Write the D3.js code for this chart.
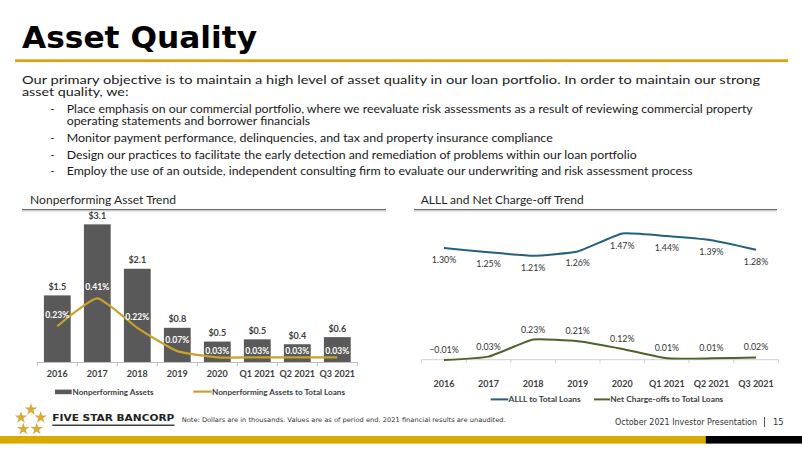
<!DOCTYPE html>
<html>
<head>
<meta charset="utf-8">
<script src="https://cdn.jsdelivr.net/npm/d3@7"></script>
<style>
html,body{margin:0;padding:0;background:#fff;}
svg{display:block;}
</style>
</head>
<body>
<script>
// ---------------- DATA ----------------
const categories = ["2016","2017","2018","2019","2020","Q1 2021","Q2 2021","Q3 2021"];
const npaValues = [1.5, 3.1, 2.1, 0.77, 0.46, 0.51, 0.4, 0.56];      // $ thousands (labels)
const npaToLoans = [0.23, 0.41, 0.22, 0.07, 0.03, 0.03, 0.03, 0.03]; // %
const alllToLoans = [1.30, 1.25, 1.21, 1.26, 1.47, 1.44, 1.39, 1.28]; // %
const ncoToLoans = [-0.01, 0.03, 0.23, 0.21, 0.12, 0.01, 0.01, 0.02]; // %

const titleText = "Asset Quality";
const introLines = [
  "Our primary objective is to maintain a high level of asset quality in our loan portfolio. In order to maintain our strong",
  "asset quality, we:"
];
const bulletLines = [
  ["Place emphasis on our commercial portfolio, where we reevaluate risk assessments as a result of reviewing commercial property",
   "operating statements and borrower financials"],
  ["Monitor payment performance, delinquencies, and tax and property insurance compliance"],
  ["Design our practices to facilitate the early detection and remediation of problems within our loan portfolio"],
  ["Employ the use of an outside, independent consulting firm to evaluate our underwriting and risk assessment process"]
];
const leftTitle = "Nonperforming Asset Trend";
const rightTitle = "ALLL and Net Charge-off Trend";
const leftLegend = ["Nonperforming Assets", "Nonperforming Assets to Total Loans"];
const rightLegend = ["ALLL to Total Loans", "Net Charge-offs to Total Loans"];
const footNote = "Note: Dollars are in thousands. Values are as of period end. 2021 financial results are unaudited.";
const footRight = "October 2021 Investor Presentation";
const pageNum = "15";
const brand = "FIVE STAR BANCORP";

// ---------------- STYLE ----------------
const GOLD = "#DAAA00";
const BAR = "#595959";
const NPA_LINE = "#C9A227";
const ALLL = "#24607F";
const NCO = "#4F6228";
const TXT = "#404040";
const BODY_FONT = "Lato, 'Open Sans', sans-serif";

const svg = d3.select("body").append("svg").attr("width", 802).attr("height", 451);

// ---------------- HEADER ----------------
svg.append("text").attr("x", 22).attr("y", 47.5)
  .attr("font-family", "'DejaVu Sans', Verdana, sans-serif").attr("font-weight", "bold")
  .attr("font-size", 31).attr("fill", "#000")
  .attr("textLength", 235).attr("lengthAdjust", "spacingAndGlyphs")
  .text(titleText);
svg.append("rect").attr("x", 15).attr("y", 59.3).attr("width", 773).attr("height", 2.8).attr("fill", "#D4A514");

// intro paragraph: one text element, wrapped lines as tspans
const introY = [84.4, 96.4], introLen = [738, 106.5];
const intro = svg.append("text")
  .attr("font-family", BODY_FONT).attr("font-size", 11.6).attr("fill", "#1a1a1a");
introLines.forEach((t, i) => {
  intro.append("tspan").attr("x", 22).attr("y", introY[i])
    .attr("textLength", introLen[i]).attr("lengthAdjust", "spacingAndGlyphs").text(t);
});

const bulletY = [[113.3, 125.4], [141.6], [158.6], [174.6]];
const bulletLen = [[686, 243.5], [486], [570], [626]];
bulletLines.forEach((lines, i) => {
  svg.append("text").attr("x", 50.5).attr("y", bulletY[i][0])
    .attr("font-family", BODY_FONT).attr("font-size", 10.5).attr("fill", "#1a1a1a").text("-");
  const bt = svg.append("text")
    .attr("font-family", BODY_FONT).attr("font-size", 10.5).attr("fill", "#1a1a1a");
  lines.forEach((t, j) => {
    bt.append("tspan").attr("x", 66.7).attr("y", bulletY[i][j])
      .attr("textLength", bulletLen[i][j]).attr("lengthAdjust", "spacingAndGlyphs").text(t);
  });
});

// section titles
function sectionTitle(x, text, len, x0, x1) {
  svg.append("text").attr("x", x).attr("y", 203.8)
    .attr("font-family", BODY_FONT).attr("font-size", 11.5).attr("fill", "#262626")
    .attr("textLength", len).attr("lengthAdjust", "spacingAndGlyphs").text(text);
  svg.append("line").attr("x1", x0).attr("x2", x1).attr("y1", 210.8).attr("y2", 210.8)
    .attr("stroke", "#d0d0d0").attr("stroke-width", 1.2);
  svg.append("line").attr("x1", x0).attr("x2", x1).attr("y1", 209.6).attr("y2", 209.6)
    .attr("stroke", "#595959").attr("stroke-width", 1);
}
sectionTitle(30, leftTitle, 146, 22, 386);
sectionTitle(420.7, rightTitle, 163, 414, 777);

// ---------------- LEFT CHART ----------------
const L = { x0: 37.3, x1: 357.3, base: 362 };
const xL = d3.scaleBand().domain(categories).range([L.x0, L.x1]).paddingInner(0.33).paddingOuter(0.165);
const yBar = d3.scaleLinear().domain([0, 3.5]).range([L.base, L.base - 3.5 * 44.4]);
const yPct = d3.scaleLinear().domain([0, 0.45]).range([L.base, L.base - 0.45 * 155.4]);

const gL = svg.append("g");
gL.selectAll("rect.bar").data(categories).join("rect").attr("class", "bar")
  .attr("x", d => xL(d)).attr("width", xL.bandwidth())
  .attr("y", (d, i) => yBar(npaValues[i])).attr("height", (d, i) => yBar(0) - yBar(npaValues[i]))
  .attr("fill", BAR);

// axis
const axL = d3.axisBottom(xL).tickSize(0).tickPadding(0);
const axisLG = gL.append("g").attr("transform", `translate(0,${L.base})`).call(axL);
axisLG.select(".domain").attr("stroke", "#bfbfbf");
axisLG.selectAll(".tick text").remove();
const bL = [...categories.map(c => xL(c) - xL.step() * xL.paddingInner() / 2), L.x1];
gL.selectAll("line.tk").data(bL).join("line").attr("class", "tk")
  .attr("x1", d => d).attr("x2", d => d).attr("y1", L.base).attr("y2", L.base + 4)
  .attr("stroke", "#bfbfbf");
gL.selectAll("text.cat").data(categories).join("text").attr("class", "cat")
  .attr("x", d => xL(d) + xL.bandwidth() / 2).attr("y", 376.6).attr("text-anchor", "middle")
  .attr("font-family", BODY_FONT).attr("font-weight", "bold").attr("font-size", 9).attr("fill", TXT)
  .text(d => d);

// bar labels
gL.selectAll("text.val").data(categories).join("text").attr("class", "val")
  .attr("x", d => xL(d) + xL.bandwidth() / 2).attr("y", (d, i) => yBar(npaValues[i]) - 5.5)
  .attr("text-anchor", "middle")
  .attr("font-family", BODY_FONT).attr("font-weight", "bold").attr("font-size", 9).attr("fill", TXT)
  .text((d, i) => "$" + d3.format(".1f")(npaValues[i]));

// NPA ratio line
const lineL = d3.line().x((d, i) => xL(categories[i]) + xL.bandwidth() / 2).y(d => yPct(d)).curve(d3.curveCardinal.tension(0.5));
gL.append("path").datum(npaToLoans).attr("d", lineL).attr("fill", "none")
  .attr("stroke", NPA_LINE).attr("stroke-width", 2.2);
gL.selectAll("text.pct").data(npaToLoans).join("text").attr("class", "pct")
  .attr("x", (d, i) => xL(categories[i]) + xL.bandwidth() / 2)
  .attr("y", d => yPct(d) - (d < 0.05 ? 6.5 : 11) + 3)
  .attr("text-anchor", "middle")
  .attr("font-family", BODY_FONT).attr("font-weight", "bold").attr("font-size", 8.6).attr("fill", "#fff")
  .text(d => d3.format(".2f")(d) + "%");

// legend left
gL.append("rect").attr("x", 55).attr("y", 389.6).attr("width", 16.7).attr("height", 4.6).attr("fill", BAR);
gL.append("text").attr("x", 72.5).attr("y", 394.6).attr("font-family", BODY_FONT).attr("font-weight", "bold")
  .attr("font-size", 8).attr("fill", TXT).attr("textLength", 81).attr("lengthAdjust", "spacingAndGlyphs").text(leftLegend[0]);
gL.append("line").attr("x1", 193.3).attr("x2", 211.7).attr("y1", 391.6).attr("y2", 391.6)
  .attr("stroke", NPA_LINE).attr("stroke-width", 2.2);
gL.append("text").attr("x", 212).attr("y", 394.6).attr("font-family", BODY_FONT).attr("font-weight", "bold")
  .attr("font-size", 8).attr("fill", TXT).attr("textLength", 133).attr("lengthAdjust", "spacingAndGlyphs").text(leftLegend[1]);

// ---------------- RIGHT CHART ----------------
const R = { x0: 421.7, x1: 778.3, zero: 359.2 };
const xR = d3.scalePoint().domain(categories).range([R.x0, R.x1]).padding(0.5);
const yR = d3.scaleLinear().domain([-0.05, 1.6]).range([R.zero + 0.05 * 85.5, R.zero - 1.6 * 85.5]);
const gR = svg.append("g");

const axR = d3.axisBottom(xR).tickSize(0).tickPadding(0);
const axisRG = gR.append("g").attr("transform", `translate(0,${yR(0)})`).call(axR);
axisRG.select(".domain").attr("stroke", "#d0d0d0");
axisRG.selectAll(".tick text").remove();
const bR = [...categories.map(c => xR(c) - xR.step() / 2), R.x1];
gR.selectAll("line.tk").data(bR).join("line").attr("class", "tk")
  .attr("x1", d => d).attr("x2", d => d).attr("y1", yR(0)).attr("y2", yR(0) + 4)
  .attr("stroke", "#d0d0d0");
gR.selectAll("text.cat").data(categories).join("text").attr("class", "cat")
  .attr("x", d => xR(d)).attr("y", 386.6).attr("text-anchor", "middle")
  .attr("font-family", BODY_FONT).attr("font-weight", "bold").attr("font-size", 9).attr("fill", TXT)
  .text(d => d);

const lineR = d3.line().x((d, i) => xR(categories[i])).y(d => yR(d)).curve(d3.curveCardinal.tension(0.6));
gR.append("path").datum(alllToLoans).attr("d", lineR).attr("fill", "none").attr("stroke", ALLL).attr("stroke-width", 2);
gR.append("path").datum(ncoToLoans).attr("d", lineR).attr("fill", "none").attr("stroke", NCO).attr("stroke-width", 2);

gR.selectAll("text.alll").data(alllToLoans).join("text").attr("class", "alll")
  .attr("x", (d, i) => xR(categories[i])).attr("y", d => yR(d) + 15)
  .attr("text-anchor", "middle").attr("font-family", BODY_FONT)
  .attr("font-size", 8.8).attr("fill", "#333").text(d => d3.format(".2f")(d) + "%");
gR.selectAll("text.nco").data(ncoToLoans).join("text").attr("class", "nco")
  .attr("x", (d, i) => xR(categories[i])).attr("y", d => yR(d) - 7)
  .attr("text-anchor", "middle").attr("font-family", BODY_FONT)
  .attr("font-size", 8.8).attr("fill", "#333").text(d => d3.format(".2f")(d) + "%");

// legend right
gR.append("line").attr("x1", 490.7).attr("x2", 508.3).attr("y1", 399.4).attr("y2", 399.4).attr("stroke", ALLL).attr("stroke-width", 2);
gR.append("text").attr("x", 508.6).attr("y", 402.4).attr("font-family", BODY_FONT).attr("font-weight", "bold")
  .attr("font-size", 8).attr("fill", TXT).attr("textLength", 72).attr("lengthAdjust", "spacingAndGlyphs").text(rightLegend[0]);
gR.append("line").attr("x1", 594).attr("x2", 610).attr("y1", 399.4).attr("y2", 399.4).attr("stroke", NCO).attr("stroke-width", 2);
gR.append("text").attr("x", 610.3).attr("y", 402.4).attr("font-family", BODY_FONT).attr("font-weight", "bold")
  .attr("font-size", 8).attr("fill", TXT).attr("textLength", 113).attr("lengthAdjust", "spacingAndGlyphs").text(rightLegend[1]);

// ---------------- FOOTER ----------------
const starPos = [[31, 409.5], [21, 417.5], [40.7, 417.5], [23.3, 429], [36.7, 429]];
svg.selectAll("path.star").data(starPos).join("path").attr("class", "star")
  .attr("transform", d => `translate(${d[0]},${d[1]})`)
  .attr("d", d3.symbol(d3.symbolStar, 48)).attr("fill", "#D9A93A");
svg.append("text").attr("x", 52.3).attr("y", 421).attr("font-family", "'DejaVu Sans', sans-serif")
  .attr("font-weight", "bold").attr("font-size", 9.2).attr("fill", "#222")
  .attr("textLength", 122).attr("lengthAdjust", "spacingAndGlyphs").text(brand);
svg.append("line").attr("x1", 52.3).attr("x2", 174.5).attr("y1", 425.3).attr("y2", 425.3).attr("stroke", "#404040").attr("stroke-width", 1.6);
svg.append("text").attr("x", 181.7).attr("y", 422).attr("font-family", "'DejaVu Sans', Verdana, sans-serif")
  .attr("font-size", 6.4).attr("fill", "#333")
  .attr("textLength", 324).attr("lengthAdjust", "spacingAndGlyphs").text(footNote);
svg.append("text").attr("x", 615).attr("y", 425).attr("font-family", "'DejaVu Sans', Verdana, sans-serif")
  .attr("font-size", 8.4).attr("fill", "#333")
  .attr("textLength", 142).attr("lengthAdjust", "spacingAndGlyphs").text(footRight);
svg.append("line").attr("x1", 764.5).attr("x2", 764.5).attr("y1", 417).attr("y2", 427).attr("stroke", "#555").attr("stroke-width", 1);
svg.append("text").attr("x", 773).attr("y", 425).attr("font-family", "'DejaVu Sans', Verdana, sans-serif")
  .attr("font-size", 8.4).attr("fill", "#333").text(pageNum);
svg.append("rect").attr("x", 0).attr("y", 436).attr("width", 705.7).attr("height", 7.6).attr("fill", GOLD);
svg.append("rect").attr("x", 705.7).attr("y", 436).attr("width", 96.3).attr("height", 7.6).attr("fill", "#000");
</script>
</body>
</html>
